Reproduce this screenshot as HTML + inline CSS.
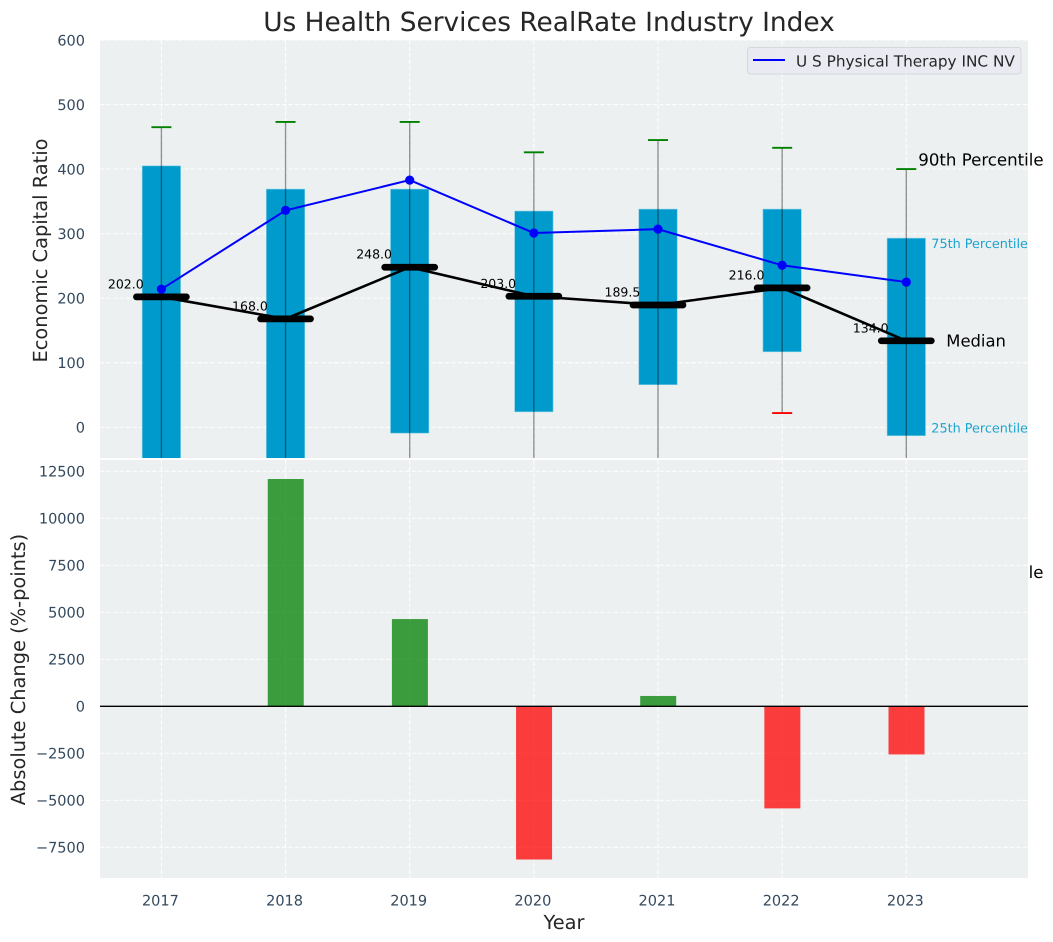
<!DOCTYPE html>
<html lang="en">
<head>
<meta charset="utf-8">
<title>Us Health Services RealRate Industry Index</title>
<style>
html,body{margin:0;padding:0;background:#fff;}
svg{display:block;position:absolute;left:0;top:0;}
text{font-family:"DejaVu Sans","Liberation Sans",sans-serif;text-rendering:geometricPrecision;}
</style>
</head>
<body>
<svg id="chart" xmlns="http://www.w3.org/2000/svg" width="1053" height="942" viewBox="0 0 1053 942">
  <defs>
    <clipPath id="clip-top"><rect x="100" y="40" width="928" height="418"/></clipPath>
    <clipPath id="clip-bottom"><rect x="100" y="460" width="928" height="418"/></clipPath>
  </defs>
</svg>
<script>
const years = [2017, 2018, 2019, 2020, 2021, 2022, 2023];
const medians = [202, 168, 248, 203, 189.5, 216, 134];
const medianLabels = ['202.0', '168.0', '248.0', '203.0', '189.5', '216.0', '134.0'];
const p75 = [405, 369, 369, 335, 338, 338, 293];
const p25 = [-100, -100, -9, 24, 66, 117, -13];
const p90 = [465, 473, 473, 426, 445, 433, 400];
const p10 = [-150, -150, -120, -130, -110, 22, -140];
const company = [214, 336, 383, 301, 307, 251, 225];
const changes = [0, 12090, 4640, -8150, 550, -5430, -2560];
const topTicks = [0, 100, 200, 300, 400, 500, 600];
const bottomTicks = [-7500, -5000, -2500, 0, 2500, 5000, 7500, 10000, 12500];

const NS = 'http://www.w3.org/2000/svg';
const root = document.getElementById('chart');
const X0 = 100, X1 = 1028;
const xStep = 124.15;
function xScale(year) { return 161.4 + (year - years[0]) * xStep; }
function yTop(v) { return 427.3 - v * 0.6455; }
function yBottom(v) { return 706.3 - v * 0.0188; }

function mk(tag, attrs, parent, txt) {
  const el = document.createElementNS(NS, tag);
  for (const k in attrs) el.setAttribute(k, attrs[k]);
  if (txt !== undefined) el.textContent = txt;
  (parent || root).appendChild(el);
  return el;
}
function fmtTick(v) { return v < 0 ? '\u2212' + Math.abs(v) : String(v); }
const GRID = { stroke: '#ffffff', 'stroke-width': 1.15, 'stroke-dasharray': '4.5,2', 'stroke-opacity': 0.85 };
const SLATE = '#34495e';
const INK = '#262626';
const TICK_SIZE = 14.5;

/* ---------- top panel ---------- */
const topBg = mk('rect', { x: X0, y: 40, width: X1 - X0, height: 418, fill: '#ecf0f1' });



const topGroup = mk('g', { 'clip-path': 'url(#clip-top)' });



topTicks.forEach(function (t) {
  const g = mk('line', Object.assign({ x1: X0, x2: X1, y1: yTop(t), y2: yTop(t) }, GRID), topGroup);
  
  
  const l = mk('text', { x: 85, y: yTop(t) + 5.3, 'text-anchor': 'end', 'font-size': TICK_SIZE, fill: SLATE }, root, fmtTick(t));
  
  
});
years.forEach(function (y) {
  const g = mk('line', Object.assign({ x1: xScale(y), x2: xScale(y), y1: 40, y2: 458 }, GRID), topGroup);
  
  
});

/* median labels sit under the boxes */
years.forEach(function (y, i) {
  const t = mk('text', { x: xScale(y) - 53.5, y: yTop(medians[i]) - 8.5, 'font-size': 12.5, fill: '#000' }, root, medianLabels[i]);
  
  
});

years.forEach(function (y, i) {
  const cx = xScale(y);
  const b = mk('rect', { x: cx - 19.2, y: yTop(p75[i]), width: 38.4, height: yTop(p25[i]) - yTop(p75[i]), fill: '#009bcc', stroke: '#7fcde6', 'stroke-width': 0.6 }, topGroup);
  
  
  const w = mk('line', { x1: cx, x2: cx, y1: yTop(p90[i]), y2: yTop(p10[i]), stroke: '#000', 'stroke-opacity': 0.42, 'stroke-width': 1.35 }, topGroup);
  
  
  const hi = mk('line', { x1: cx - 10, x2: cx + 10, y1: yTop(p90[i]), y2: yTop(p90[i]), stroke: '#008000', 'stroke-width': 1.9 }, topGroup);
  
  
  const lo = mk('line', { x1: cx - 10, x2: cx + 10, y1: yTop(p10[i]), y2: yTop(p10[i]), stroke: '#ff0000', 'stroke-width': 1.9 }, topGroup);
  
  
});

const medPts = years.map(function (y, i) { return xScale(y) + ',' + yTop(medians[i]); }).join(' ');
const medLine = mk('polyline', { points: medPts, fill: 'none', stroke: '#000', 'stroke-width': 2.6 }, topGroup);


years.forEach(function (y, i) {
  const cx = xScale(y);
  const m = mk('line', { x1: cx - 25, x2: cx + 25, y1: yTop(medians[i]), y2: yTop(medians[i]), stroke: '#000', 'stroke-width': 6.7, 'stroke-linecap': 'round' }, topGroup);
  
  
});

const compPts = years.map(function (y, i) { return xScale(y) + ',' + yTop(company[i]); }).join(' ');
const compLine = mk('polyline', { points: compPts, fill: 'none', stroke: '#0000ff', 'stroke-width': 2 }, topGroup);


years.forEach(function (y, i) {
  const c = mk('circle', { cx: xScale(y), cy: yTop(company[i]), r: 4.6, fill: '#0000ff' }, topGroup);
  
  
});

/* annotations next to the last year */
const lastIdx = years.length - 1;
const lastX = xScale(years[lastIdx]);
const a90 = mk('text', { x: lastX + 12, y: yTop(p90[lastIdx]) - 3.5, 'font-size': 16.6, fill: '#000' }, root, '90th Percentile');


const a75 = mk('text', { x: lastX + 25, y: yTop(p75[lastIdx]) + 10, 'font-size': 12.8, fill: '#1ba3cf' }, root, '75th Percentile');


const aMed = mk('text', { x: lastX + 40, y: yTop(medians[lastIdx]) + 5.5, 'font-size': 16.4, fill: '#000' }, root, 'Median');


const a25 = mk('text', { x: lastX + 25, y: yTop(p25[lastIdx]) - 3, 'font-size': 12.8, fill: '#1ba3cf' }, root, '25th Percentile');


const a10 = mk('text', { x: 1043.5, y: 578, 'text-anchor': 'end', 'font-size': 16.6, fill: '#000' }, root, '10th Percentile');



/* ---------- bottom panel (painted over the overflowing annotation) ---------- */
const botBg = mk('rect', { x: X0, y: 460, width: X1 - X0, height: 418, fill: '#ecf0f1' });


const botGroup = mk('g', { 'clip-path': 'url(#clip-bottom)' });



bottomTicks.forEach(function (t) {
  const g = mk('line', Object.assign({ x1: X0, x2: X1, y1: yBottom(t), y2: yBottom(t) }, GRID), botGroup);
  
  
  const l = mk('text', { x: 85, y: yBottom(t) + 5.3, 'text-anchor': 'end', 'font-size': TICK_SIZE, fill: SLATE }, root, fmtTick(t));
  
  
});
years.forEach(function (y) {
  const g = mk('line', Object.assign({ x1: xScale(y), x2: xScale(y), y1: 460, y2: 878 }, GRID), botGroup);
  
  
  const l = mk('text', { x: xScale(y) - 1, y: 905.3, 'text-anchor': 'middle', 'font-size': TICK_SIZE, fill: SLATE }, root, String(y));
  
  
});
years.forEach(function (y, i) {
  const v = changes[i];
  if (v === 0) return;
  const top = Math.min(yBottom(v), yBottom(0));
  const h = Math.abs(yBottom(v) - yBottom(0));
  const b = mk('rect', { x: xScale(y) - 17.8, y: top, width: 36, height: h, fill: v > 0 ? '#008000' : '#ff0000', 'fill-opacity': 0.75 }, botGroup);
  
  
});
const zero = mk('line', { x1: X0, x2: X1, y1: yBottom(0), y2: yBottom(0), stroke: '#000', 'stroke-width': 1.3 }, botGroup);



/* ---------- titles ---------- */
const title = mk('text', { x: 549, y: 31, 'text-anchor': 'middle', 'font-size': 26.4, fill: INK }, root, 'Us Health Services RealRate Industry Index');


const yl1 = mk('text', { transform: 'translate(47,250.5) rotate(-90)', 'text-anchor': 'middle', 'font-size': 19.4, fill: INK }, root, 'Economic Capital Ratio');


const yl2 = mk('text', { transform: 'translate(25,669.5) rotate(-90)', 'text-anchor': 'middle', 'font-size': 19.4, fill: INK }, root, 'Absolute Change (%-points)');


const xl = mk('text', { x: 564, y: 929, 'text-anchor': 'middle', 'font-size': 19.4, fill: INK }, root, 'Year');



/* ---------- legend ---------- */
const legend = mk('g', {});


const legBox = mk('rect', { x: 747.5, y: 47.5, width: 273.5, height: 26.5, rx: 3, fill: '#eaeaf2', 'fill-opacity': 0.9, stroke: '#d6d8dc', 'stroke-width': 1 }, legend);


const legLine = mk('line', { x1: 753, x2: 785, y1: 60, y2: 60, stroke: '#0000ff', 'stroke-width': 2 }, legend);


const legText = mk('text', { x: 796, y: 66.3, 'font-size': 15.3, fill: INK }, legend, 'U S Physical Therapy INC NV');


</script>
</body>
</html>
